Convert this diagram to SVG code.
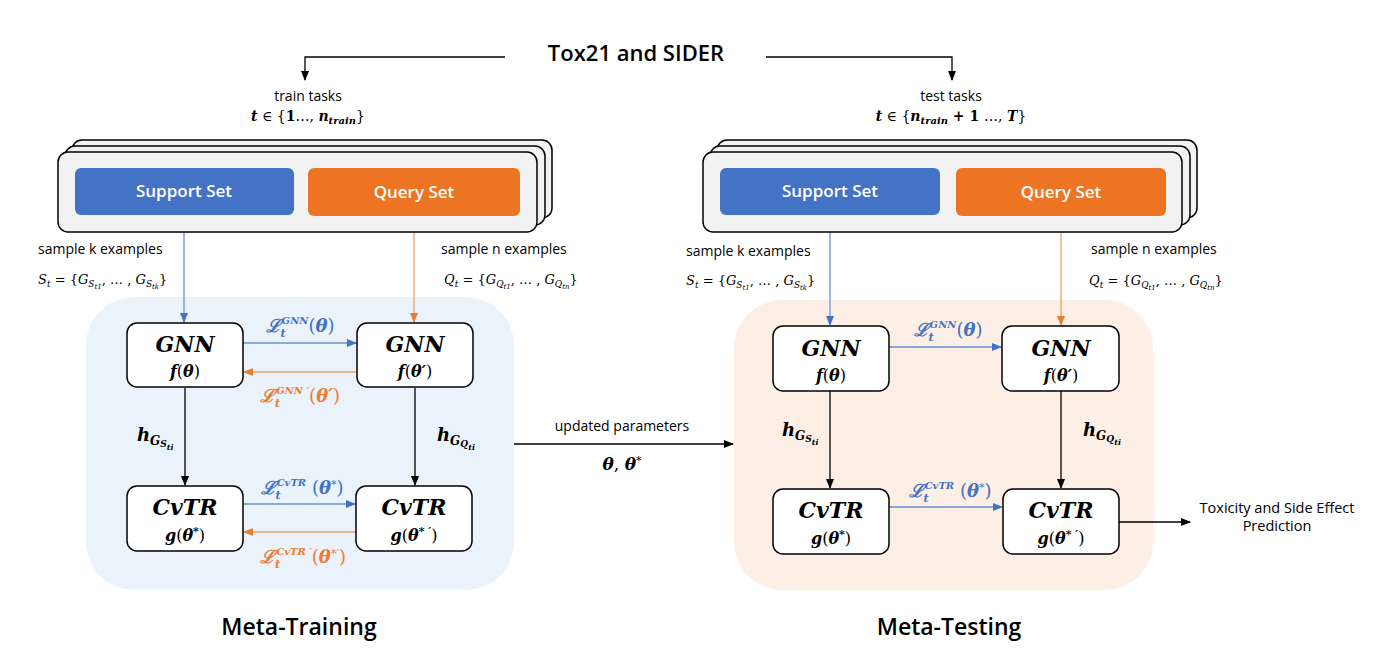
<svg xmlns="http://www.w3.org/2000/svg" width="1376" height="666" viewBox="0 0 1376 666">
<defs>
<marker id="ak" markerWidth="10" markerHeight="10" refX="9" refY="5" orient="auto" markerUnits="userSpaceOnUse"><path d="M0,1 L10,5 L0,9 Z" fill="#000"/></marker>
<marker id="ab" markerWidth="10" markerHeight="10" refX="9" refY="5" orient="auto" markerUnits="userSpaceOnUse"><path d="M0,1 L10,5 L0,9 Z" fill="#4472C4"/></marker>
<marker id="ao" markerWidth="10" markerHeight="10" refX="9" refY="5" orient="auto" markerUnits="userSpaceOnUse"><path d="M0,1 L10,5 L0,9 Z" fill="#ED7D31"/></marker>
<style>
.ui{font-family:"Open Sans","Noto Sans","DejaVu Sans",sans-serif;}
.m{font-family:"DejaVu Serif","Liberation Serif",serif;font-style:italic;}
.mb{font-family:"DejaVu Serif","Liberation Serif",serif;font-style:italic;font-weight:bold;}
.n{font-style:normal;}
.nn{font-style:normal;font-weight:normal;}
.card{fill:#F2F2F2;stroke:#000;stroke-width:1.5;}
.node{fill:#fff;stroke:#000;stroke-width:1.5;}
.k{stroke:#000;stroke-width:1.3;fill:none;}
.b{stroke:#6A90D8;stroke-width:1.3;fill:none;}
.o{stroke:#F0A06A;stroke-width:1.3;fill:none;}
.bt{fill:#4472C4;}
.ot{fill:#ED7D31;}
</style>
</defs>
<rect width="1376" height="666" fill="#fff"/>

<!-- panels -->
<rect x="86" y="297" width="428" height="293" rx="48" fill="#EAF2FC"/>
<rect x="734" y="300" width="419" height="290" rx="48" fill="#FDEFE6"/>

<!-- title -->
<text x="636" y="61" class="ui" font-size="22" font-weight="600" text-anchor="middle">Tox21 and SIDER</text>

<g id="connectors">
<path class="k" d="M505,57 H305 V80" marker-end="url(#ak)"/>
<path class="k" d="M766,57 H952 V80" marker-end="url(#ak)"/>
<path class="b" d="M184,215 V322" marker-end="url(#ab)"/>
<path class="o" d="M414,217 V322" marker-end="url(#ao)"/>
<path class="b" d="M830,216 V325" marker-end="url(#ab)"/>
<path class="o" d="M1061,216 V325" marker-end="url(#ao)"/>
<path class="b" d="M243,343 H356" marker-end="url(#ab)"/>
<path class="o" d="M357,372 H244" marker-end="url(#ao)"/>
<path class="b" d="M243,504 H355" marker-end="url(#ab)"/>
<path class="o" d="M356,532 H244" marker-end="url(#ao)"/>
<path class="k" d="M185,388 V485" marker-end="url(#ak)"/>
<path class="k" d="M415,388 V485" marker-end="url(#ak)"/>
<path class="b" d="M889,347 H1001" marker-end="url(#ab)"/>
<path class="b" d="M889,507 H1002" marker-end="url(#ab)"/>
<path class="k" d="M830,391 V488" marker-end="url(#ak)"/>
<path class="k" d="M1061,391 V488" marker-end="url(#ak)"/>
<path class="k" d="M514,444 H733" marker-end="url(#ak)"/>
<path class="k" d="M1119,522 H1190" marker-end="url(#ak)"/>
</g>

<!-- task labels -->
<g id="train-tasks">
<text x="308" y="101" class="ui" font-size="14" text-anchor="middle">train tasks</text>
<text x="308" y="121" class="m" font-size="14" text-anchor="middle"><tspan class="mb">t</tspan><tspan class="n"> ∈ {</tspan><tspan class="mb n">1</tspan><tspan class="n">…, </tspan><tspan class="mb">n</tspan><tspan class="mb" font-size="10" dy="3">train</tspan><tspan class="n" dy="-3">}</tspan></text>
</g>
<g id="test-tasks">
<text x="951" y="101" class="ui" font-size="14" text-anchor="middle">test tasks</text>
<text x="951" y="121" class="m" font-size="14" text-anchor="middle"><tspan class="mb">t</tspan><tspan class="n">  ∈ {</tspan><tspan class="mb">n</tspan><tspan class="mb" font-size="10" dy="3">train</tspan><tspan class="mb n" dy="-3"> + 1 </tspan><tspan class="n">…, </tspan><tspan class="mb">T</tspan><tspan class="n">}</tspan></text>
</g>

<!-- left stack -->
<g id="train-stack">
<rect class="card" x="72" y="140" width="480" height="78" rx="10"/>
<rect class="card" x="65" y="146" width="480" height="79" rx="10"/>
<rect class="card" x="58" y="152" width="479" height="80" rx="10"/>
</g>
<g id="train-support">
<rect x="75" y="168" width="219" height="47" rx="6" fill="#4472C4"/>
<text x="184" y="197" class="ui" font-size="17" font-weight="600" fill="#fff" text-anchor="middle">Support Set</text>
</g>
<g id="train-query">
<rect x="308" y="168" width="212" height="48" rx="6" fill="#ED7422"/>
<text x="414" y="198" class="ui" font-size="17" font-weight="600" fill="#fff" text-anchor="middle">Query Set</text>
</g>

<!-- right stack -->
<g id="test-stack">
<rect class="card" x="717" y="140" width="480" height="78" rx="10"/>
<rect class="card" x="710" y="146" width="480" height="79" rx="10"/>
<rect class="card" x="703" y="152" width="479" height="80" rx="10"/>
</g>
<g id="test-support">
<rect x="720" y="168" width="220" height="47" rx="6" fill="#4472C4"/>
<text x="830" y="197" class="ui" font-size="17" font-weight="600" fill="#fff" text-anchor="middle">Support Set</text>
</g>
<g id="test-query">
<rect x="956" y="168" width="210" height="48" rx="6" fill="#ED7422"/>
<text x="1061" y="198" class="ui" font-size="17" font-weight="600" fill="#fff" text-anchor="middle">Query Set</text>
</g>

<!-- sample labels -->
<g id="sample-labels">
<text x="38" y="254" class="ui" font-size="14">sample k examples</text>
<text x="38" y="284" class="m" font-size="13">S<tspan font-size="9" dy="3">t</tspan><tspan class="n" dy="-3">  =  {</tspan>G<tspan font-size="9" dy="3">S</tspan><tspan font-size="7" dy="2">t1</tspan><tspan class="n" dy="-5">, … , </tspan>G<tspan font-size="9" dy="3">S</tspan><tspan font-size="7" dy="2">tk</tspan><tspan class="n" dy="-5">}</tspan></text>
<text x="441" y="254" class="ui" font-size="14">sample n examples</text>
<text x="444" y="284" class="m" font-size="13">Q<tspan font-size="9" dy="3">t</tspan><tspan class="n" dy="-3">  =  {</tspan>G<tspan font-size="9" dy="3">Q</tspan><tspan font-size="7" dy="2">t1</tspan><tspan class="n" dy="-5">, … , </tspan>G<tspan font-size="9" dy="3">Q</tspan><tspan font-size="7" dy="2">tn</tspan><tspan class="n" dy="-5">}</tspan></text>
<text x="686" y="256" class="ui" font-size="14">sample k examples</text>
<text x="686" y="285" class="m" font-size="13">S<tspan font-size="9" dy="3">t</tspan><tspan class="n" dy="-3">  =  {</tspan>G<tspan font-size="9" dy="3">S</tspan><tspan font-size="7" dy="2">t1</tspan><tspan class="n" dy="-5">, … , </tspan>G<tspan font-size="9" dy="3">S</tspan><tspan font-size="7" dy="2">tk</tspan><tspan class="n" dy="-5">}</tspan></text>
<text x="1091" y="254" class="ui" font-size="14">sample n examples</text>
<text x="1089" y="285" class="m" font-size="13">Q<tspan font-size="9" dy="3">t</tspan><tspan class="n" dy="-3">  =  {</tspan>G<tspan font-size="9" dy="3">Q</tspan><tspan font-size="7" dy="2">t1</tspan><tspan class="n" dy="-5">, … , </tspan>G<tspan font-size="9" dy="3">Q</tspan><tspan font-size="7" dy="2">tn</tspan><tspan class="n" dy="-5">}</tspan></text>
</g>

<!-- left nodes -->
<g id="tr-gnn1">
<rect class="node" x="127" y="323" width="116" height="64" rx="10"/>
<text x="185" y="352" class="mb" font-size="22" text-anchor="middle">GNN</text>
<text x="185" y="377" class="mb" font-size="16" text-anchor="middle">f<tspan class="nn">(</tspan>θ<tspan class="nn">)</tspan></text>
</g>
<g id="tr-gnn2">
<rect class="node" x="357" y="323" width="116" height="64" rx="10"/>
<text x="415" y="352" class="mb" font-size="22" text-anchor="middle">GNN</text>
<text x="415" y="377" class="mb" font-size="16" text-anchor="middle">f<tspan class="nn">(</tspan>θ′<tspan class="nn">)</tspan></text>
</g>
<g id="tr-cvtr1">
<rect class="node" x="127" y="486" width="116" height="65" rx="10"/>
<text x="185" y="515" class="mb" font-size="22" text-anchor="middle">CvTR</text>
<text x="185" y="541" class="mb" font-size="16" text-anchor="middle">g<tspan class="nn">(</tspan>θ<tspan font-size="11" dy="-6">*</tspan><tspan class="nn" dy="6">)</tspan></text>
</g>
<g id="tr-cvtr2">
<rect class="node" x="356" y="486" width="116" height="65" rx="10"/>
<text x="414" y="515" class="mb" font-size="22" text-anchor="middle">CvTR</text>
<text x="414" y="541" class="mb" font-size="16" text-anchor="middle">g<tspan class="nn">(</tspan>θ<tspan font-size="11" dy="-6">* ′</tspan><tspan class="nn" dy="6">)</tspan></text>
</g>

<!-- left labels -->
<g id="tr-labels">
<text x="300" y="332" class="m bt" font-size="18" text-anchor="middle"><tspan font-weight="bold">ℒ</tspan><tspan class="mb" font-size="11" dy="5">t</tspan><tspan class="mb" font-size="10" dy="-13" dx="-4">GNN</tspan><tspan class="n" dy="8">(</tspan><tspan font-weight="bold">θ</tspan><tspan class="n">)</tspan></text>
<text x="300" y="402" class="m ot" font-size="18" text-anchor="middle"><tspan font-weight="bold">ℒ</tspan><tspan class="mb" font-size="11" dy="5">t</tspan><tspan class="mb" font-size="10" dy="-13" dx="-4">GNN ′</tspan><tspan class="n" dy="8">(</tspan><tspan font-weight="bold">θ′</tspan><tspan class="n">)</tspan></text>
<text x="302" y="494" class="m bt" font-size="18" text-anchor="middle"><tspan font-weight="bold">ℒ</tspan><tspan class="mb" font-size="11" dy="5">t</tspan><tspan class="mb" font-size="10" dy="-13" dx="-4">CvTR</tspan><tspan class="n" dy="8"> (</tspan><tspan font-weight="bold">θ</tspan><tspan font-size="11" dy="-6">*</tspan><tspan class="n" dy="6">)</tspan></text>
<text x="303" y="563" class="m ot" font-size="18" text-anchor="middle"><tspan font-weight="bold">ℒ</tspan><tspan class="mb" font-size="11" dy="5">t</tspan><tspan class="mb" font-size="10" dy="-13" dx="-4">CvTR ′</tspan><tspan class="n" dy="8">(</tspan><tspan font-weight="bold">θ</tspan><tspan font-size="11" dy="-6">*′</tspan><tspan class="n" dy="6">)</tspan></text>
<text x="137" y="441" class="mb" font-size="18">h<tspan font-size="12" dy="4">G</tspan><tspan font-size="9" dy="2">S</tspan><tspan font-size="8" dy="3">ti</tspan></text>
<text x="437" y="441" class="mb" font-size="18">h<tspan font-size="12" dy="4">G</tspan><tspan font-size="9" dy="2">Q</tspan><tspan font-size="8" dy="3">ti</tspan></text>
</g>

<!-- right nodes -->
<g id="te-gnn1">
<rect class="node" x="773" y="326" width="116" height="65" rx="10"/>
<text x="831" y="356" class="mb" font-size="22" text-anchor="middle">GNN</text>
<text x="831" y="381" class="mb" font-size="16" text-anchor="middle">f<tspan class="nn">(</tspan>θ<tspan class="nn">)</tspan></text>
</g>
<g id="te-gnn2">
<rect class="node" x="1002" y="326" width="117" height="65" rx="10"/>
<text x="1061" y="356" class="mb" font-size="22" text-anchor="middle">GNN</text>
<text x="1061" y="381" class="mb" font-size="16" text-anchor="middle">f<tspan class="nn">(</tspan>θ′<tspan class="nn">)</tspan></text>
</g>
<g id="te-cvtr1">
<rect class="node" x="773" y="489" width="116" height="65" rx="10"/>
<text x="831" y="518" class="mb" font-size="22" text-anchor="middle">CvTR</text>
<text x="831" y="544" class="mb" font-size="16" text-anchor="middle">g<tspan class="nn">(</tspan>θ<tspan font-size="11" dy="-6">*</tspan><tspan class="nn" dy="6">)</tspan></text>
</g>
<g id="te-cvtr2">
<rect class="node" x="1003" y="489" width="116" height="65" rx="10"/>
<text x="1061" y="518" class="mb" font-size="22" text-anchor="middle">CvTR</text>
<text x="1061" y="544" class="mb" font-size="16" text-anchor="middle">g<tspan class="nn">(</tspan>θ<tspan font-size="11" dy="-6">* ′</tspan><tspan class="nn" dy="6">)</tspan></text>
</g>

<g id="te-labels">
<text x="948" y="336" class="m bt" font-size="18" text-anchor="middle"><tspan font-weight="bold">ℒ</tspan><tspan class="mb" font-size="11" dy="5">t</tspan><tspan class="mb" font-size="10" dy="-13" dx="-4">GNN</tspan><tspan class="n" dy="8">(</tspan><tspan font-weight="bold">θ</tspan><tspan class="n">)</tspan></text>
<text x="950" y="497" class="m bt" font-size="18" text-anchor="middle"><tspan font-weight="bold">ℒ</tspan><tspan class="mb" font-size="11" dy="5">t</tspan><tspan class="mb" font-size="10" dy="-13" dx="-4">CvTR</tspan><tspan class="n" dy="8"> (</tspan><tspan font-weight="bold">θ</tspan><tspan font-size="11" dy="-6">*</tspan><tspan class="n" dy="6">)</tspan></text>
<text x="782" y="436" class="mb" font-size="18">h<tspan font-size="12" dy="4">G</tspan><tspan font-size="9" dy="2">S</tspan><tspan font-size="8" dy="3">ti</tspan></text>
<text x="1083" y="436" class="mb" font-size="18">h<tspan font-size="12" dy="4">G</tspan><tspan font-size="9" dy="2">Q</tspan><tspan font-size="8" dy="3">ti</tspan></text>
</g>

<g id="update-label">
<text x="622" y="431" class="ui" font-size="14" text-anchor="middle">updated parameters</text>
<text x="622" y="470" class="mb" font-size="17" text-anchor="middle">θ<tspan class="nn">, </tspan>θ<tspan font-size="11" font-weight="normal" dy="-6">*</tspan></text>
</g>

<g id="output">
<text x="1277" y="513" class="ui" font-size="14.5" text-anchor="middle">Toxicity and Side Effect</text>
<text x="1277" y="531" class="ui" font-size="14.5" text-anchor="middle">Prediction</text>
</g>

<text x="299" y="635" class="ui" font-size="23" font-weight="600" text-anchor="middle">Meta-Training</text>
<text x="949" y="635" class="ui" font-size="23" font-weight="600" text-anchor="middle">Meta-Testing</text>
</svg>
